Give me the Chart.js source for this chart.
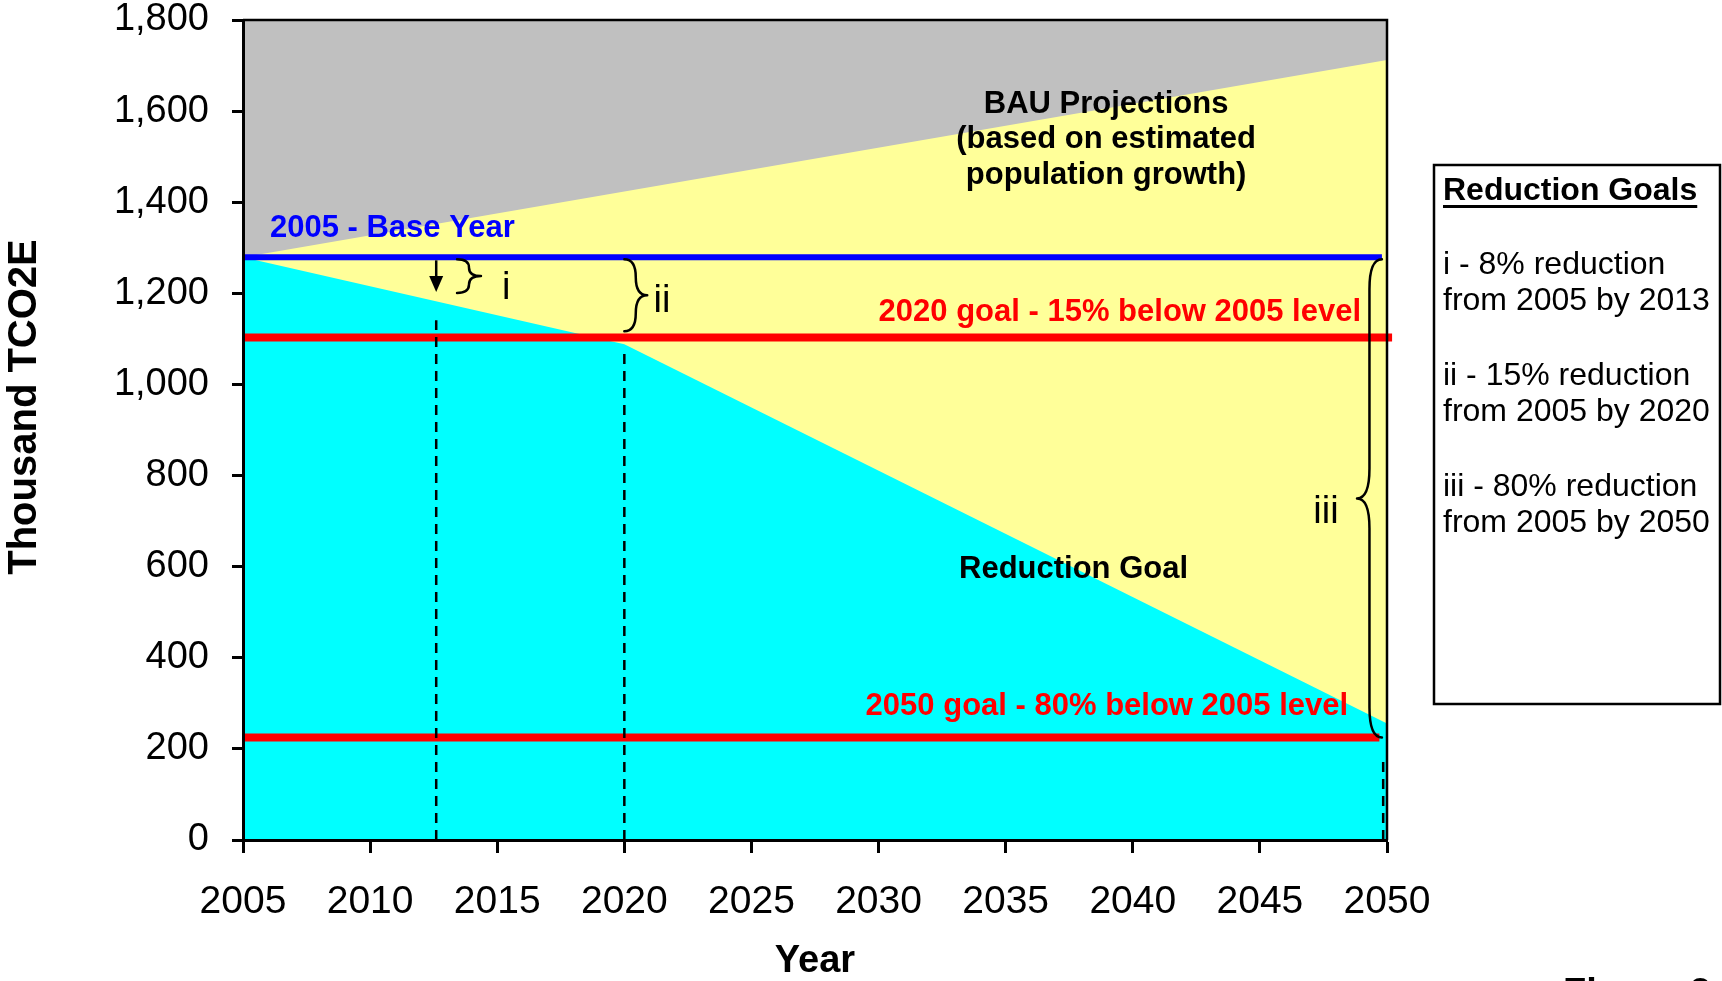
<!DOCTYPE html>
<html>
<head>
<meta charset="utf-8">
<script src="https://cdn.jsdelivr.net/npm/chart.js@4.4.0/dist/chart.umd.min.js"></script>
<style>
  html, body { margin: 0; padding: 0; background: #fff; }
  #wrap { width: 1722px; height: 981px; position: relative; }
</style>
</head>
<body>
<div id="wrap"><canvas id="report"></canvas></div>
<script>
// thousand TCO2E
var bauYears = [2005, 2050];
var bauValues = [1279, 1712];
var goalYears = [2005, 2020, 2050];
var goalValues = [1279, 1088, 256];

// base year line, 2020 goal, 2050 goal
var levelValues = [1279, 1103, 225];
var levelEnds = [2049.8, 2050.2, 2049.7];

// dashed year markers
var markYears = [2012.6, 2020, 2049.85];
var markTops = [1141, 1069, 182];

var yearTicks = [2005, 2010, 2015, 2020, 2025, 2030, 2035, 2040, 2045, 2050];
var valueTicks = [0, 200, 400, 600, 800, 1000, 1200, 1400, 1600, 1800];

// braces: from value, to value, open-side year, tip year
var braceFrom = [1279, 1279, 1279];
var braceTo = [1201, 1117, 225];
var braceYears = [2013.42, 2020.0, 2049.8];
var braceTips = [2014.36, 2020.9, 2048.82];
var braceLabels = ['i', 'ii', 'iii'];

var goalNotes = ['i - 8% reduction', 'from 2005 by 2013', 'ii - 15% reduction',
                 'from 2005 by 2020', 'iii - 80% reduction', 'from 2005 by 2050'];

function pts(xs, ys) {
    return xs.map(function(x, i) { return {x: x, y: ys[i]}; });
}

var datasets = [];

// level lines
var levelColors = ['#0000FF', '#FF0000', '#FF0000'];
var levelWidths = [6, 8, 8];
levelValues.forEach(function(v, i) {
    datasets.push({
        data: [{x: 2005, y: v}, {x: levelEnds[i], y: v}],
        borderColor: levelColors[i],
        borderWidth: levelWidths[i],
        pointRadius: 0,
        fill: false,
        clip: false,
        order: 2
    });
});

// dashed markers
markYears.forEach(function(yr, i) {
    datasets.push({
        data: [{x: yr, y: 0}, {x: yr, y: markTops[i]}],
        borderColor: '#000',
        borderWidth: 2.5,
        borderDash: [10, 7],
        pointRadius: 0,
        fill: false,
        clip: false,
        order: 1
    });
});

datasets.push({
    label: 'Reduction Goal',
    data: pts(goalYears, goalValues),
    borderWidth: 0,
    borderColor: 'rgba(0,0,0,0)',
    backgroundColor: '#00FFFF',
    pointRadius: 0,
    fill: 'origin',
    order: 4
});
datasets.push({
    label: 'BAU Projections',
    data: pts(bauYears, bauValues),
    borderWidth: 0,
    borderColor: 'rgba(0,0,0,0)',
    backgroundColor: '#FFFF99',
    pointRadius: 0,
    fill: 'origin',
    order: 5
});

function drawBrace(ctx, x0, tip, yTop, yBot) {
    var xm = (x0 + tip) / 2, ym = (yTop + yBot) / 2;
    var r = Math.min(Math.abs(tip - x0) * 1.2, (yBot - yTop) / 4);
    ctx.beginPath();
    ctx.moveTo(x0, yTop);
    ctx.quadraticCurveTo(xm, yTop, xm, yTop + r);
    ctx.lineTo(xm, ym - r);
    ctx.quadraticCurveTo(xm, ym, tip, ym);
    ctx.quadraticCurveTo(xm, ym, xm, ym + r);
    ctx.lineTo(xm, yBot - r);
    ctx.quadraticCurveTo(xm, yBot, x0, yBot);
    ctx.stroke();
}

var BOLD = 'bold 31px "Liberation Sans", Arial, sans-serif';
var NORMAL = '38px "Liberation Sans", Arial, sans-serif';

var decor = {
    id: 'decor',
    beforeDraw: function(chart) {
        var a = chart.chartArea, ctx = chart.ctx;
        ctx.save();
        ctx.fillStyle = '#C0C0C0';
        ctx.fillRect(a.left, a.top, a.right - a.left, a.bottom - a.top);
        ctx.restore();
    },
    afterDatasetsDraw: function(chart) {
        var a = chart.chartArea, ctx = chart.ctx;
        var sx = chart.scales.x, sy = chart.scales.y;
        function X(v) { return sx.getPixelForValue(v); }
        function Y(v) { return sy.getPixelForValue(v); }
        ctx.save();

        // frame top/right
        ctx.strokeStyle = '#000';
        ctx.lineWidth = 2.5;
        ctx.beginPath();
        ctx.moveTo(a.left, a.top);
        ctx.lineTo(a.right, a.top);
        ctx.lineTo(a.right, a.bottom);
        ctx.stroke();

        // braces
        ctx.lineWidth = 2.5;
        ctx.lineJoin = 'round';
        ctx.lineCap = 'round';
        braceFrom.forEach(function(v, i) {
            drawBrace(ctx, X(braceYears[i]), X(braceTips[i]), Y(v) + 2, Y(braceTo[i]));
        });

        // arrow at 2013
        var ax = X(markYears[0]), ay0 = Y(levelValues[0]) + 3, ay1 = Y(1203);
        ctx.lineCap = 'butt';
        ctx.beginPath();
        ctx.moveTo(ax, ay0);
        ctx.lineTo(ax, ay1 - 12);
        ctx.stroke();
        ctx.fillStyle = '#000';
        ctx.beginPath();
        ctx.moveTo(ax - 7, ay1 - 16);
        ctx.lineTo(ax + 7, ay1 - 16);
        ctx.lineTo(ax, ay1);
        ctx.closePath();
        ctx.fill();

        // brace labels
        ctx.font = NORMAL;
        ctx.textAlign = 'center';
        ctx.textBaseline = 'alphabetic';
        ctx.fillText(braceLabels[0], X(2015.35), Y(1187.5));
        ctx.fillText(braceLabels[1], X(2021.48), Y(1159));
        ctx.fillText(braceLabels[2], X(2047.6), Y(695.8));

        // area / line notes
        ctx.font = BOLD;
        ctx.fillStyle = '#000';
        ctx.fillText('BAU Projections', X(2038.95), Y(1596));
        ctx.fillText('(based on estimated', X(2038.95), Y(1519));
        ctx.fillText('population growth)', X(2038.95), Y(1440));
        ctx.fillText('Reduction Goal', X(2037.67), Y(575));

        ctx.fillStyle = '#0000FF';
        ctx.textAlign = 'left';
        ctx.fillText('2005 - Base Year', X(2006.06), Y(1323.6));

        ctx.fillStyle = '#FF0000';
        ctx.textAlign = 'right';
        ctx.fillText('2020 goal - 15% below 2005 level', X(2048.98), Y(1139.3));
        ctx.fillText('2050 goal - 80% below 2005 level', X(2048.47), Y(274.4));
        ctx.restore();
    },
    afterDraw: function(chart) {
        var ctx = chart.ctx;
        ctx.save();
        // y axis title
        ctx.translate(24.5, 407);
        ctx.rotate(-Math.PI / 2);
        ctx.font = 'bold 40px "Liberation Sans", Arial, sans-serif';
        ctx.fillStyle = '#000';
        ctx.textAlign = 'center';
        ctx.textBaseline = 'middle';
        ctx.fillText('Thousand TCO2E', 0, 0);
        ctx.restore();

        // goals box
        ctx.save();
        ctx.strokeStyle = '#000';
        ctx.lineWidth = 2.5;
        ctx.strokeRect(1434, 165, 286, 539);
        ctx.fillStyle = '#000';
        ctx.textAlign = 'left';
        ctx.textBaseline = 'alphabetic';
        ctx.font = 'bold 32px "Liberation Sans", Arial, sans-serif';
        ctx.fillText('Reduction Goals', 1443, 200);
        var w = ctx.measureText('Reduction Goals').width;
        ctx.fillRect(1443, 205, w, 3);
        ctx.font = '32px "Liberation Sans", Arial, sans-serif';
        var base = [274, 310, 385, 421, 496, 532];
        goalNotes.forEach(function(t, i) {
            ctx.fillText(t, 1443, base[i]);
        });

        ctx.font = 'bold 38px "Liberation Sans", Arial, sans-serif';
        ctx.fillText('Figure 2', 1563, 1005);
        ctx.restore();
    }
};

var tickFont = {family: '"Liberation Sans", Arial, sans-serif', size: 38, lineHeight: 1};
var xTickFont = {family: '"Liberation Sans", Arial, sans-serif', size: 39, lineHeight: 1};

var chart = new Chart(document.getElementById('report').getContext('2d'), {
    type: 'line',
    data: {datasets: datasets},
    options: {
        responsive: true,
        maintainAspectRatio: false,
        animation: false,
        layout: {padding: {top: 20, right: 335, left: 0, bottom: 0}},
        elements: {line: {tension: 0}},
        plugins: {legend: {display: false}, tooltip: {enabled: false}},
        scales: {
            x: {
                type: 'linear',
                min: 2005,
                max: 2050,
                afterBuildTicks: function(s) { s.ticks = yearTicks.map(function(v) { return {value: v}; }); },
                afterFit: function(s) { s.height = 141; s.paddingLeft = 0; s.paddingRight = 0; },
                ticks: {
                    font: xTickFont,
                    color: '#000',
                    padding: 30,
                    maxRotation: 0,
                    autoSkip: false,
                    callback: function(v) { return String(v); }
                },
                grid: {drawOnChartArea: false, drawTicks: true, tickLength: 13, tickWidth: 3, tickColor: '#000', z: 1},
                border: {display: true, color: '#000', width: 3, z: 1},
                title: {
                    display: true,
                    text: 'Year',
                    color: '#000',
                    font: {family: '"Liberation Sans", Arial, sans-serif', size: 38, weight: 'bold', lineHeight: 1.0},
                    padding: 0
                }
            },
            y: {
                min: 0,
                max: 1800,
                afterBuildTicks: function(s) { s.ticks = valueTicks.map(function(v) { return {value: v}; }); },
                afterFit: function(s) { s.width = 243; s.paddingTop = 0; s.paddingBottom = 0; },
                ticks: {
                    font: tickFont,
                    color: '#000',
                    padding: 23,
                    callback: function(v) { return v.toLocaleString('en-US'); }
                },
                grid: {drawOnChartArea: false, drawTicks: true, tickLength: 11, tickWidth: 3, tickColor: '#000', z: 1},
                border: {display: true, color: '#000', width: 3, z: 1}
            }
        }
    },
    plugins: [decor]
});
</script>
</body>
</html>
